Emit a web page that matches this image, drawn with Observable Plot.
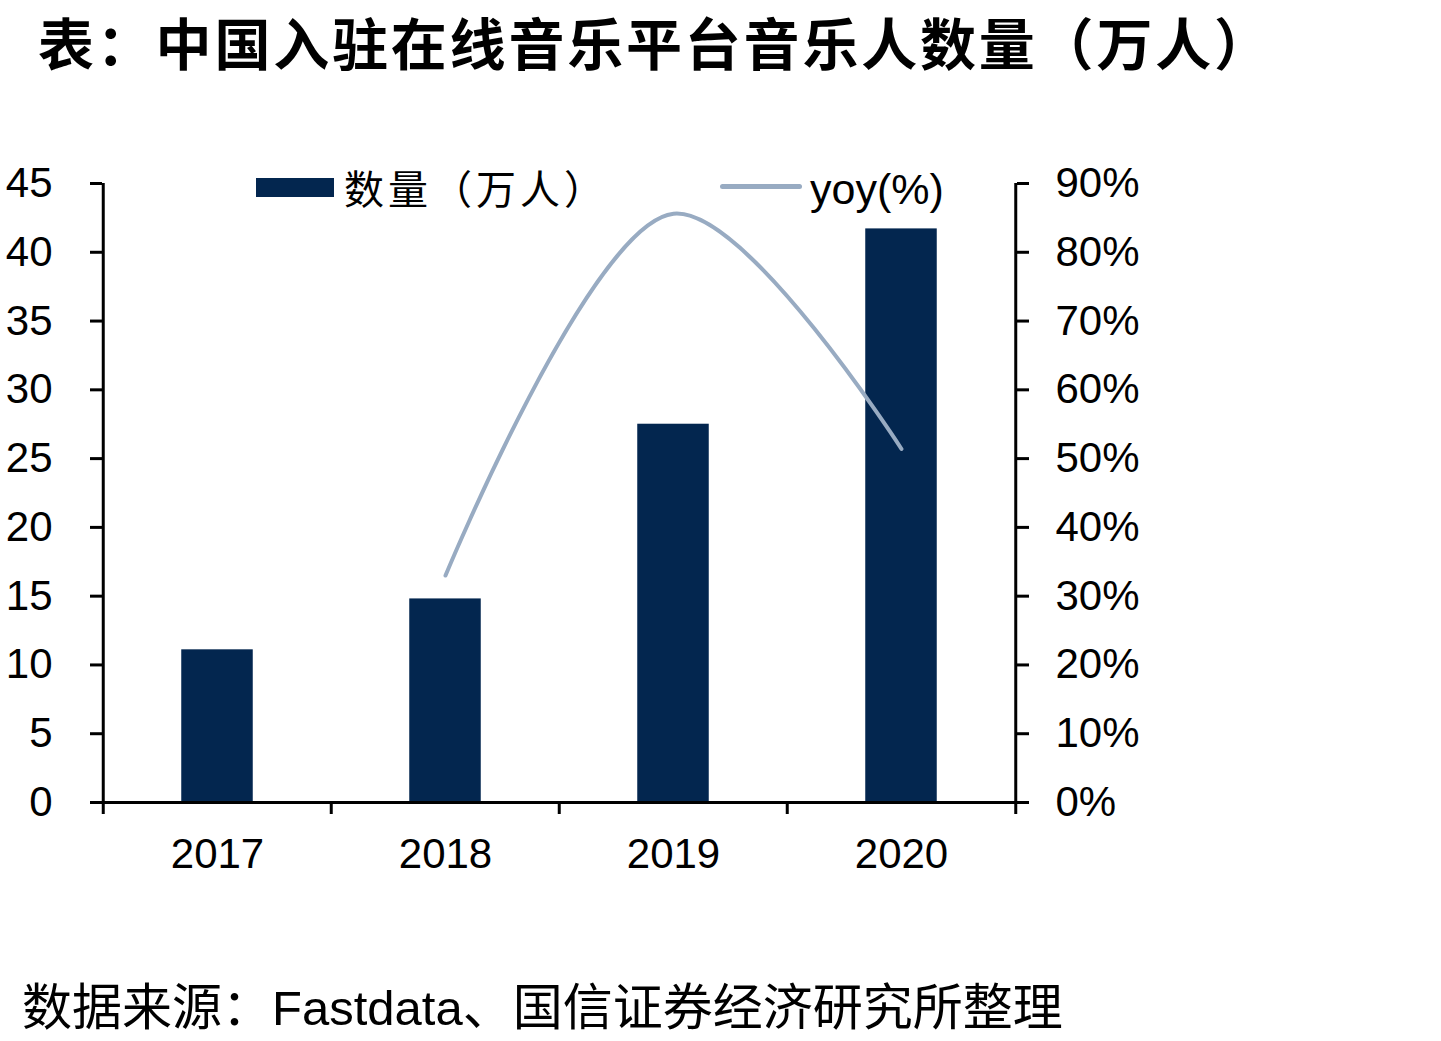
<!DOCTYPE html>
<html>
<head>
<meta charset="utf-8">
<script src="https://cdn.jsdelivr.net/npm/d3@7"></script>
<script src="https://cdn.jsdelivr.net/npm/@observablehq/plot@0.6"></script>
<style>
  html, body { margin: 0; padding: 0; background: #fff; }
  #page { position: relative; width: 1441px; height: 1041px; background: #fff; overflow: hidden; }
  #title { position: absolute; left: 38px; top: 6px; font-family: "Noto Sans CJK SC", sans-serif; font-weight: 700; font-size: 56px; letter-spacing: 2.8px; line-height: 70px; color: #000; white-space: nowrap; }
  #chart { position: absolute; left: 0; top: 90px; }
  #caption { position: absolute; left: 22px; top: 972px; font-family: "Noto Sans CJK SC", "Liberation Sans", sans-serif; font-size: 50px; line-height: 62px; color: #000; white-space: nowrap; }
  #caption .lat { font-family: "Liberation Sans", Arial, sans-serif; font-size: 49px; }
  .leg { position: absolute; }
  .legtext { position: absolute; white-space: nowrap; color: #000; }
</style>
</head>
<body>
<div id="page">
  <div id="title">表：中国入驻在线音乐平台音乐人数量（万人）</div>
  <div id="chart"></div>
  <div class="leg" id="barSwatch" style="left:256px; top:178px; width:78px; height:19px;"></div>
  <div class="legtext" id="barLabel" style="left:344px; top:165px; font-family:'Noto Sans CJK SC',sans-serif; font-size:40px; letter-spacing:4px; line-height:44px;"></div>
  <div class="leg" id="lineSwatch" style="left:720px; top:184px; width:82px; height:5px; border-radius:3px;"></div>
  <div class="legtext" id="lineLabel" style="left:810px; top:164px; font-family:'Liberation Sans',Arial,sans-serif; font-size:43px; line-height:50px;"></div>
  <div id="caption">数据来源：<span class="lat">Fastdata</span>、国信证券经济研究所整理</div>
</div>
<script>
// ---- data ----
const years = ["2017", "2018", "2019", "2020"];
const musicians = [11.1, 14.8, 27.5, 41.7];           // 入驻音乐人数量（万人）
const yoyYears = ["2018", "2019", "2020"];
const yoy = [33.0, 85.6, 51.4];                         // yoy (%)
const leftTicks = [0, 5, 10, 15, 20, 25, 30, 35, 40, 45];
const rightTickLabels = ["0%", "10%", "20%", "30%", "40%", "50%", "60%", "70%", "80%", "90%"];
const seriesNames = ["数量（万人）", "yoy(%)"];

// ---- styles ----
const barColor = "#03264f";
const lineColor = "#98abc2";
const W = 1441, H = 812;
const mL = 102, mR = 425, mT = 93, mB = 100;
const bw = (W - mL - mR) / years.length;
const barWidth = 72;

const barData = years.map((y, i) => ({year: y, value: musicians[i]}));
const lineData = yoyYears.map((y, i) => ({year: y, value: yoy[i]}));
const rightMax = 90, leftMax = 45;

document.getElementById("barSwatch").style.background = barColor;
document.getElementById("lineSwatch").style.background = lineColor;
document.getElementById("barLabel").textContent = seriesNames[0];
document.getElementById("lineLabel").textContent = seriesNames[1];

const chart = Plot.plot({
  width: W,
  height: H,
  marginLeft: mL,
  marginRight: mR,
  marginTop: mT,
  marginBottom: mB,
  style: {fontFamily: "'Liberation Sans', Arial, sans-serif", fontSize: "42px", color: "#000", background: "#fff", overflow: "visible"},
  x: {type: "band", domain: years, padding: 0, label: null},
  y: {domain: [0, leftMax], label: null},
  marks: [
    Plot.barY(barData, {x: "year", y: "value", fill: barColor, insetLeft: (bw - barWidth) / 2, insetRight: (bw - barWidth) / 2}),
    Plot.line(lineData, {x: "year", y: d => d.value * leftMax / rightMax, stroke: lineColor, strokeWidth: 4, curve: "catmull-rom"}),
    // axis lines
    Plot.ruleY([0], {stroke: "#000", strokeWidth: 3}),
    Plot.ruleX([years[0]], {dx: -bw / 2, y1: 0, y2: leftMax, stroke: "#000", strokeWidth: 3}),
    Plot.ruleX([years[years.length - 1]], {dx: bw / 2, y1: 0, y2: leftMax, stroke: "#000", strokeWidth: 3}),
    // category boundary ticks
    Plot.ruleX(years, {dx: -bw / 2, y1: 0, y2: 0, insetBottom: -12, stroke: "#000", strokeWidth: 3}),
    Plot.ruleX([years[years.length - 1]], {dx: bw / 2, y1: 0, y2: 0, insetBottom: -12, stroke: "#000", strokeWidth: 3}),
    Plot.axisX({tickSize: 0, tickPadding: 36, fontSize: 42, label: null}),
    Plot.axisY({anchor: "left", ticks: leftTicks, tickSize: 12, tickPadding: 38, strokeWidth: 3, label: null, fontSize: 42}),
    Plot.axisY({anchor: "right", ticks: leftTicks, tickSize: 12, tickPadding: 27, strokeWidth: 3, label: null, fontSize: 42,
      tickFormat: d => rightTickLabels[leftTicks.indexOf(d)]})
  ]
});
document.getElementById("chart").appendChild(chart);
</script>
</body>
</html>
